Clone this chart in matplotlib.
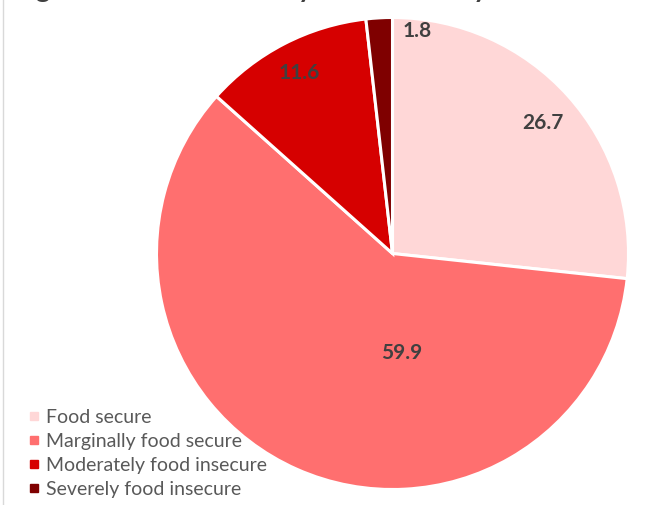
import numpy as np
import matplotlib
matplotlib.use('Agg')
import matplotlib.pyplot as plt
from matplotlib.lines import Line2D

categories = ['Food secure', 'Marginally food secure',
              'Moderately food insecure', 'Severely food insecure']
shares = [26.7, 59.9, 11.6, 1.8]
colors = ['#FFD7D7', '#FF6F6F', '#D60000', '#7F0000']

plt.rcParams['font.family'] = ['Lato', 'DejaVu Sans']

fig = plt.figure(figsize=(6.49, 5.05), dpi=100)

# pie axes: centre at (392, 253) px, radius about 236 px
W, H = 649, 505
cx, cy, r = 392.5, 253.5, 236
ax = fig.add_axes([(cx - r) / W, (H - cy - r) / H, 2 * r / W, 2 * r / H])
wedges, _ = ax.pie(shares, colors=colors, startangle=90, counterclock=False,
                   radius=1, wedgeprops=dict(edgecolor='white', linewidth=2.2))
ax.set_xlim(-1, 1)
ax.set_ylim(-1, 1)
ax.axis('off')

# value labels, pushed in/out along each slice's middle
label_r = [0.843, 0.425, 0.861, 0.95]
label_shift = [-1, 29, 0, -9.6]   # degrees
for w, v, rr, sh in zip(wedges, shares, label_r, label_shift):
    mid = np.deg2rad((w.theta1 + w.theta2) / 2 + sh)
    ax.text(rr * np.cos(mid), rr * np.sin(mid), f'{v:.1f}', ha='center',
            va='center', fontsize=15, fontweight='bold', color='#404040')

# title sits mostly above the top edge
fig.text(14 / W, 1 + 1.5 / H, 'Figure 3: Food insecurity in the country',
         ha='left', va='baseline', fontsize=19.5, fontweight='bold',
         color='#404040')

# thin chart-area border on the left
fig.add_artist(Line2D([2.5 / W, 2.5 / W], [0, 1], color='#D9D9D9', lw=1))

handles = [Line2D([], [], marker='s', ls='', markersize=5.8,
                  markerfacecolor=c, markeredgecolor=c) for c in colors]
fig.legend(handles, categories, loc='upper left',
           bbox_to_anchor=(17 / W, 1 - 399 / H), frameon=False,
           fontsize=14, labelcolor='#595959', handletextpad=0.3,
           labelspacing=0.36, handlelength=0.7, borderpad=0)

fig.savefig('out.png', dpi=100)
